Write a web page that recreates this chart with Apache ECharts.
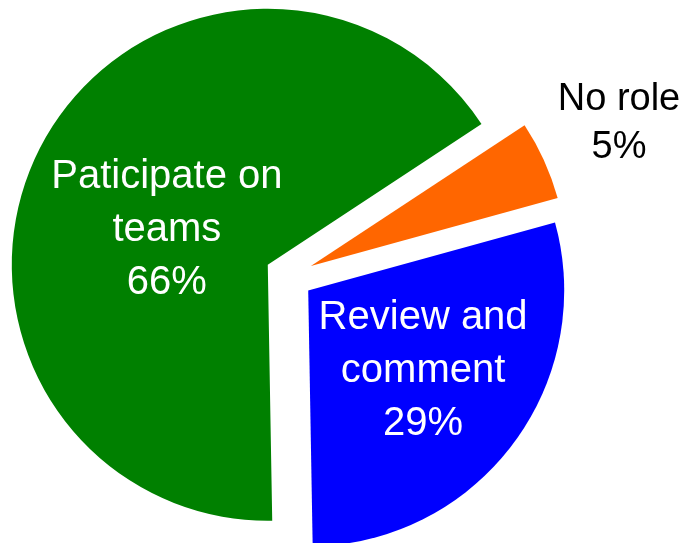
<!DOCTYPE html>
<html>
<head>
<meta charset="utf-8">
<script src="https://cdn.jsdelivr.net/npm/echarts@6/dist/echarts.min.js"></script>
<style>
  html, body { margin: 0; padding: 0; background: #ffffff; }
  #chart { width: 692px; height: 543px; }
</style>
</head>
<body>
<div id="chart"></div>
<script>
// Survey: role in the process (share of respondents, %)
const categories = ['Paticipate on\nteams', 'No role', 'Review and\ncomment'];
const shares = [66, 5, 29];
const sliceColors = ['#008000', '#FF6600', '#0000FF'];

// label styling per slice: white text on the slice, dark text outside
const labelColors = ['#ffffff', '#000000', '#ffffff'];
const labelPositions = ['inside', 'outside', 'inside'];
const labelSizes = [40, 38, 40];
const labelLineHeights = [53, 48, 53];
// small nudges of each label away from its default anchor
const labelNudges = [[15, 26], [70, -37], [10, 2]];

const chart = echarts.init(document.getElementById('chart'), null, { renderer: 'canvas' });

const data = categories.map((name, i) => ({
  name: name,
  value: shares[i],
  selected: true,
  itemStyle: { color: sliceColors[i] },
  select: { itemStyle: { color: sliceColors[i] } },
  label: {
    position: labelPositions[i],
    color: labelColors[i],
    fontSize: labelSizes[i],
    lineHeight: labelLineHeights[i]
  }
}));

chart.setOption({
  animation: false,
  backgroundColor: '#ffffff',
  series: [{
    type: 'pie',
    center: [289, 276],
    radius: [0, 256],
    startAngle: -89,
    clockwise: true,
    selectedMode: 'multiple',
    selectedOffset: 24,
    avoidLabelOverlap: false,
    emphasis: { disabled: true },
    itemStyle: { borderWidth: 0 },
    label: {
      show: true,
      formatter: '{b}\n{c}%',
      fontFamily: '"Liberation Sans", Arial, sans-serif',
      align: 'center'
    },
    labelLine: { show: false, length: 0, length2: 0 },
    labelLayout: function (p) {
      const n = labelNudges[p.dataIndex];
      return { dx: n[0], dy: n[1], align: 'center' };
    },
    data: data
  }]
});
</script>
</body>
</html>
